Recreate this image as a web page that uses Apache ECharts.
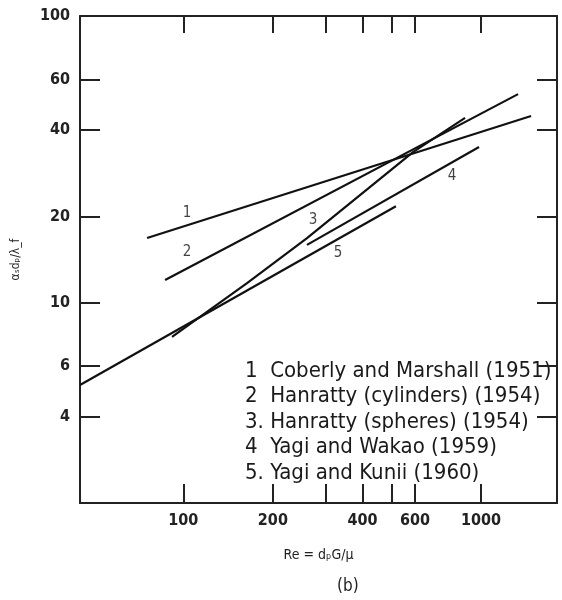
<!DOCTYPE html>
<html>
<head>
<meta charset="utf-8">
<script src="https://cdn.jsdelivr.net/npm/echarts@6/dist/echarts.min.js"></script>
<style>html,body{margin:0;padding:0;background:#fff}#c{width:562px;height:600px}</style>
</head>
<body>
<div id="c"></div>
<script>
// ---- data (log-log axes) ----
const xTickValues = [100, 200, 300, 400, 500, 600, 1000];
const xLabelValues = [100, 200, 400, 600, 1000];
const yTickValues = [4, 6, 10, 20, 40, 60, 100];
const yLabelValues = [4, 6, 10, 20, 40, 60, 100];

const legendTexts = [
  '1  Coberly and Marshall (1951)',
  '2  Hanratty (cylinders) (1954)',
  '3. Hanratty (spheres) (1954)',
  '4  Yagi and Wakao (1959)',
  '5. Yagi and Kunii (1960)'
];

const line1 = [[75.6, 16.8], [1473, 44.8]];
const line2 = [[86.9, 12.0], [1332, 53.4]];
const line3 = [[91.7, 7.59], [163.8, 11.7], [260.4, 16.8], [591, 33.5], [884, 44.1]];
const line4 = [[260.4, 15.9], [985, 34.9]];
const line5 = [[45, 5.16], [518, 21.7]];

const curveLabels = ['1', '2', '3', '4', '5'];
const curveLabelPos = [[103, 20.5], [103, 15.0], [273, 19.4], [799, 27.7], [331, 14.9]];

const xTitle = 'Re = dₚG/μ';
const yTitle = 'αₛdₚ/λ_f';
const caption = '(b)';

// ---- chart ----
const FONT = '"Liberation Sans Narrow", "DejaVu Sans Condensed", "Liberation Sans", sans-serif';
const chart = echarts.init(document.getElementById('c'), null, {renderer: 'canvas'});

const lineStyle = {color: '#111', width: 2.2};
function lineSeries(name, data) {
  return {
    name: name, type: 'line', data: data, xAxisIndex: 0, yAxisIndex: 0,
    symbol: 'none', lineStyle: lineStyle, silent: true, animation: false, z: 3
  };
}

const axisLineStyle = {show: true, lineStyle: {color: '#222', width: 2}};
const plainNum = v => String(v);

const option = {
  animation: false,
  backgroundColor: '#fff',
  grid: {left: 80, top: 16, right: 5, bottom: 97, containLabel: false},
  xAxis: [
    {
      type: 'log', logBase: 10, min: 45, max: 1800, position: 'bottom',
      axisLine: axisLineStyle,
      axisTick: {show: true, inside: true, length: 19, customValues: xTickValues,
                 lineStyle: {color: '#222', width: 2}},
      minorTick: {show: false}, splitLine: {show: false}, minorSplitLine: {show: false},
      axisLabel: {show: true, customValues: xLabelValues, margin: 10, formatter: plainNum,
                  color: '#222', fontSize: 16, fontFamily: FONT, fontWeight: 'bold'},
      name: xTitle, nameLocation: 'middle', nameGap: 45,
      nameTextStyle: {color: '#222', fontSize: 14, fontFamily: FONT}
    },
    {
      type: 'log', logBase: 10, min: 45, max: 1800, position: 'top',
      axisLine: axisLineStyle,
      axisTick: {show: true, inside: true, length: 17, customValues: xTickValues,
                 lineStyle: {color: '#222', width: 2}},
      minorTick: {show: false}, splitLine: {show: false},
      axisLabel: {show: false}
    }
  ],
  yAxis: [
    {
      type: 'log', logBase: 10, min: 2, max: 100, position: 'left',
      axisLine: axisLineStyle,
      axisTick: {show: true, inside: true, length: 20, customValues: yTickValues,
                 lineStyle: {color: '#222', width: 2}},
      minorTick: {show: false}, splitLine: {show: false}, minorSplitLine: {show: false},
      axisLabel: {show: true, customValues: yLabelValues, margin: 10, formatter: plainNum,
                  color: '#222', fontSize: 16, fontFamily: FONT, fontWeight: 'bold'},
      name: yTitle, nameLocation: 'middle', nameGap: 58, nameRotate: 90,
      nameTextStyle: {color: '#222', fontSize: 12, fontFamily: FONT}
    },
    {
      type: 'log', logBase: 10, min: 2, max: 100, position: 'right',
      axisLine: axisLineStyle,
      axisTick: {show: true, inside: true, length: 20, customValues: yTickValues,
                 lineStyle: {color: '#222', width: 2}},
      minorTick: {show: false}, splitLine: {show: false},
      axisLabel: {show: false}
    }
  ],
  series: [
    lineSeries(legendTexts[0], line1),
    lineSeries(legendTexts[1], line2),
    lineSeries(legendTexts[2], line3),
    lineSeries(legendTexts[3], line4),
    lineSeries(legendTexts[4], line5),
    {
      type: 'scatter', xAxisIndex: 0, yAxisIndex: 0, symbolSize: 0, silent: true, z: 4,
      data: curveLabels.map((t, i) => ({name: t, value: curveLabelPos[i]})),
      label: {show: true, position: 'inside', formatter: '{b}', color: '#111',
              fontSize: 15, fontFamily: FONT}
    }
  ],
  graphic: [
    {
      type: 'group', left: 245, top: 360, z: 10,
      children: legendTexts.map((t, i) => ({
        type: 'text', x: 0, y: i * 25.5,
        style: {text: t, fill: '#1a1a1a', font: '22px ' + FONT}
      }))
    },
    {
      type: 'text', left: 337, top: 578,
      style: {text: caption, fill: '#222', font: '17px ' + FONT}
    }
  ]
};
chart.setOption(option);
</script>
</body>
</html>
